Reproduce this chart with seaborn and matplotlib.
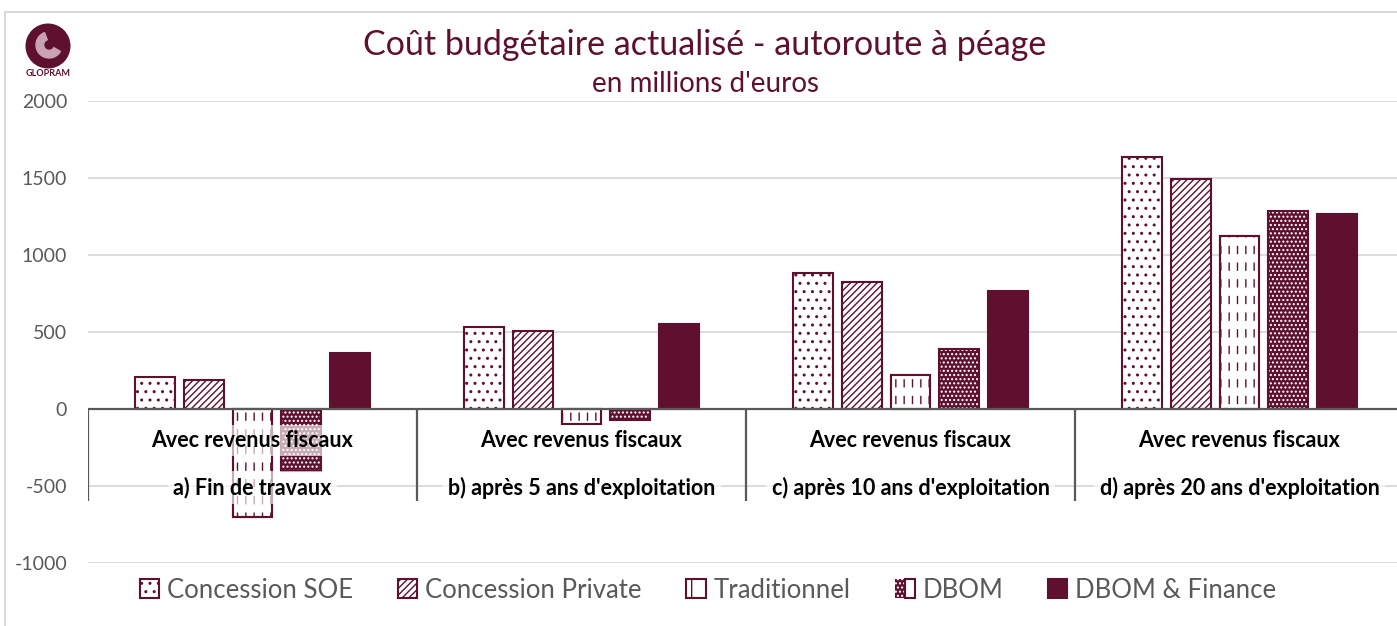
import pandas as pd
import seaborn as sns
import matplotlib.pyplot as plt
from matplotlib.patches import Rectangle, Circle, Wedge, Patch
from matplotlib.legend_handler import HandlerTuple

# values (millions d'euros)
periods = ["a) Fin de travaux", "b) après 5 ans d'exploitation",
           "c) après 10 ans d'exploitation", "d) après 20 ans d'exploitation"]
schemes = ["Concession SOE", "Concession Private", "Traditionnel", "DBOM", "DBOM & Finance"]
concession_soe = [208, 532, 883, 1636]
concession_private = [188, 506, 825, 1494]
traditionnel = [-700, -100, 221, 1123]
dbom = [-400, -70, 390, 1286]
dbom_finance = [364, 552, 766, 1266]
top_label = "Avec revenus fiscaux"
yticks = [-1000, -500, 0, 500, 1000, 1500, 2000]

series = [concession_soe, concession_private, traditionnel, dbom, dbom_finance]
df = pd.DataFrame([
    {"period": p, "scheme": s, "value": v}
    for s, vals in zip(schemes, series)
    for p, v in zip(periods, vals)
])

maroon = "#5E102E"
grey = "#595959"
grid = "#d9d9d9"

sns.set_theme(style="white")
plt.rcParams["font.family"] = ["Lato", "DejaVu Sans"]
plt.rcParams["axes.unicode_minus"] = False
plt.rcParams["hatch.linewidth"] = 1.0

W, H = 1397, 626
fig = plt.figure(figsize=(W / 100, H / 100), dpi=100)
ax = fig.add_axes([88 / W, 1 - 563 / H, 1316 / W, 462 / H])

sns.barplot(data=df, x="period", y="value", hue="scheme", order=periods,
            hue_order=schemes, palette=[maroon] * 5, saturation=1,
            width=0.74, gap=0.18, legend=False, ax=ax, zorder=3)

# patterns per scheme
for i, cont in enumerate(ax.containers):
    for bar in cont:
        bar.set_linewidth(1.5)
        if i == 0:
            bar.set_facecolor("white"); bar.set_edgecolor(maroon); bar.set_hatch("..")
        elif i == 1:
            bar.set_facecolor("white"); bar.set_edgecolor(maroon); bar.set_hatch("/////")
        elif i == 2:
            bar.set_facecolor("white"); bar.set_edgecolor(maroon); bar.set_hatch("||")
        elif i == 3:
            bar.set_facecolor(maroon); bar.set_edgecolor("white"); bar.set_hatch("...."); bar.set_linewidth(0)
        else:
            bar.set_facecolor(maroon); bar.set_edgecolor(maroon)

# break the vertical lines of "Traditionnel" into dashes, then outline the patterned bars
with plt.rc_context({"hatch.linewidth": 6}):
    for bar in ax.containers[2]:
        p = ax.bar(bar.get_x(), bar.get_height(), width=bar.get_width(), align="edge",
                   fill=False, edgecolor="white", hatch="-", linewidth=0, zorder=3.1)[0]
        if hasattr(p, "set_hatch_linewidth"):
            p.set_hatch_linewidth(6)
for i in (2, 3):
    for bar in ax.containers[i]:
        ax.bar(bar.get_x(), bar.get_height(), width=bar.get_width(), align="edge",
               fill=False, edgecolor=maroon, linewidth=1.5, zorder=3.2)

ax.set_xlim(-0.5, 3.5)
ax.set_ylim(-1000, 2000)
ax.set_yticks(yticks)
ax.yaxis.grid(True, color=grid, linewidth=1.3)
ax.set_axisbelow(True)
ax.tick_params(axis="y", length=0, pad=15, labelsize=14, labelcolor=grey)
ax.tick_params(axis="x", length=0, labelbottom=False)
ax.set_xlabel("")
ax.set_ylabel("")
for s in ax.spines.values():
    s.set_visible(False)

# category axis drawn like a two-level label box
ax.axhline(0, color=grey, linewidth=1.6, zorder=4)
ax.vlines([-0.5, 0.5, 1.5, 2.5, 3.5], -600, 0, color=grey, linewidth=1.6, zorder=4)
label_box = dict(boxstyle="square,pad=0.25", facecolor="white", edgecolor="none", alpha=0.65)
for i, p in enumerate(periods):
    ax.text(i, -205, top_label, ha="center", va="center", fontsize=15.5,
            fontweight="bold", color="black", zorder=5, bbox=label_box)
    ax.text(i, -510, p, ha="center", va="center", fontsize=15.5,
            fontweight="bold", color="black", zorder=5, bbox=label_box)

# titles
fig.text(705 / W, 1 - 45 / H, "Coût budgétaire actualisé - autoroute à péage",
         ha="center", va="center", fontsize=24.5, color=maroon)
fig.text(705 / W, 1 - 84 / H, "en millions d'euros",
         ha="center", va="center", fontsize=20, color=maroon)

# legend
dbom_dots = Patch(facecolor=maroon, edgecolor="white", hatch="....", linewidth=0)
dbom_edge = Patch(facecolor="none", edgecolor=maroon, linewidth=1.5)
handles = [
    Patch(facecolor="white", edgecolor=maroon, hatch="..", linewidth=1.5),
    Patch(facecolor="white", edgecolor=maroon, hatch="/////", linewidth=1.5),
    Patch(facecolor="white", edgecolor=maroon, hatch="|", linewidth=1.5),
    (dbom_dots, dbom_edge),
    Patch(facecolor=maroon, edgecolor=maroon, linewidth=1.5),
]
leg = fig.legend(handles, schemes, loc="center", bbox_to_anchor=(708 / W, 1 - 590 / H),
                 ncol=5, frameon=False, fontsize=18.5, handlelength=0.75, handleheight=0.75,
                 handletextpad=0.3, columnspacing=1.75,
                 handler_map={tuple: HandlerTuple(ndivide=None, pad=0)})
for t in leg.get_texts():
    t.set_color(grey)

# logo
lax = fig.add_axes([24 / W, 1 - 70 / H, 48 / W, 48 / H])
lax.set_aspect("equal")
lax.add_patch(Circle((0, 0), 1, color=maroon))
lax.add_patch(Wedge((0.05, 0.05), 0.6, 110, 330, width=0.35, color="#c9a3b3"))
lax.set_xlim(-1.1, 1.1)
lax.set_ylim(-1.1, 1.1)
lax.axis("off")
fig.text(48 / W, 1 - 74 / H, "GLOPRAM", ha="center", va="center", fontsize=6.5,
         fontweight="bold", color=maroon)

# chart frame
fig.add_artist(Rectangle((5 / W, -0.05), 1.1, 1 - 12 / H + 0.05, transform=fig.transFigure,
                         fill=False, edgecolor=grid, linewidth=1.5))

fig.savefig("out.png", dpi=100)
